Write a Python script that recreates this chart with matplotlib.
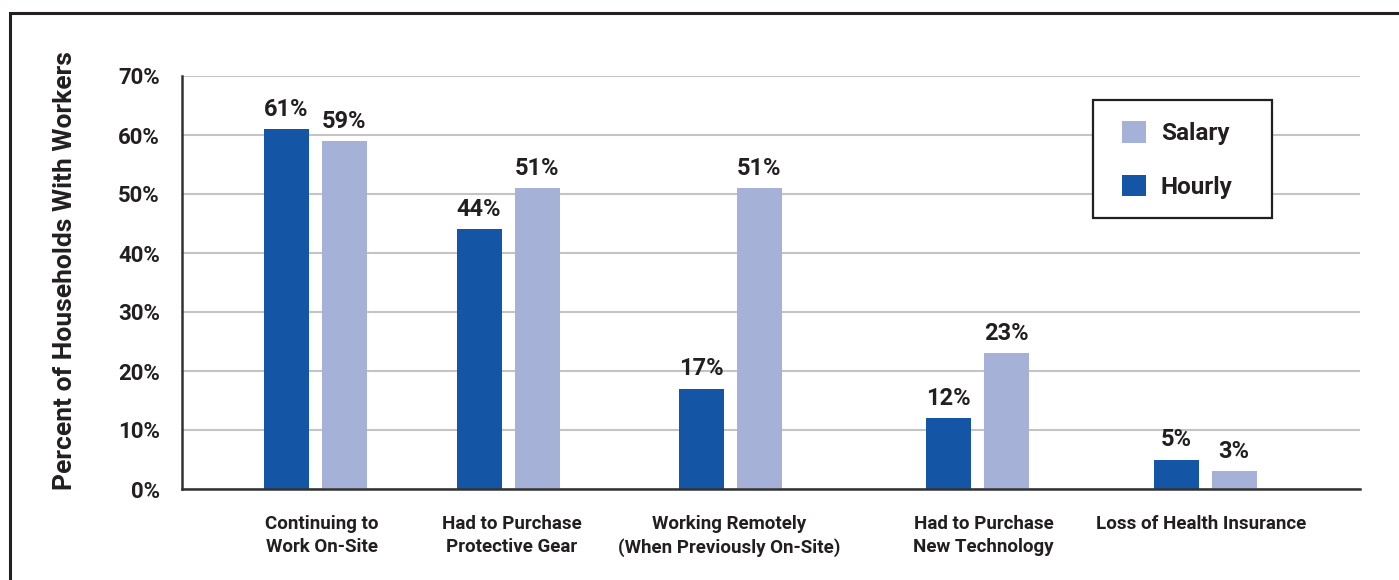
"""
Grouped bar chart: share of households with hourly vs salary workers
"""
import matplotlib
matplotlib.use("Agg")
import matplotlib.pyplot as plt
from matplotlib.patches import Patch, Rectangle

plt.rcParams['font.family'] = ['Roboto', 'DejaVu Sans']
plt.rcParams['font.weight'] = 'bold'

categories = ["Continuing to\nWork On-Site",
              "Had to Purchase\nProtective Gear",
              "Working Remotely\n(When Previously On-Site)",
              "Had to Purchase\nNew Technology",
              "Loss of Health Insurance"]
hourly = [61, 44, 17, 12, 5]
salary = [59, 51, 51, 23, 3]
yticks = [0, 10, 20, 30, 40, 50, 60, 70]

# layout (axes units roughly in pixels, groups are not evenly spaced)
group_pos = [133, 326, 548.5, 795.5, 1023]
label_pos = [139.5, 330, 547, 801.5, 1019.5]
offset = 29
width = 45

HOURLY_C = '#1555a5'
SALARY_C = '#a6b1d7'
TEXT_C = '#231f20'

fig = plt.figure(figsize=(13.99, 5.8), dpi=100)
ax = fig.add_axes([182 / 1399, 91 / 580, 1178 / 1399, 413 / 580])

xh = [g - offset for g in group_pos]
xs = [g + offset for g in group_pos]
ax.bar(xh, hourly, width=width, color=HOURLY_C, zorder=3)
ax.bar(xs, salary, width=width, color=SALARY_C, zorder=3)

for x, v in zip(xh, hourly):
    ax.annotate(f"{v}%", (x, v), xytext=(0, 6), textcoords='offset points',
                ha='center', va='bottom', fontsize=17, color=TEXT_C, fontweight='bold')
for x, v in zip(xs, salary):
    ax.annotate(f"{v}%", (x, v), xytext=(0, 6), textcoords='offset points',
                ha='center', va='bottom', fontsize=17, color=TEXT_C, fontweight='bold')

ax.set_xlim(0, 1178)
ax.set_ylim(0, 70)
ax.set_yticks(yticks)
ax.set_yticklabels([f"{t}%" for t in yticks], fontsize=16, color=TEXT_C, fontweight='bold')
ax.set_xticks(label_pos)
ax.set_xticklabels(categories, fontsize=13.5, color=TEXT_C, fontweight='bold', linespacing=1.3)
ax.tick_params(axis='y', length=0, pad=16)
ax.tick_params(axis='x', length=0, pad=19)

ax.grid(axis='y', color='#c4c4c4', linewidth=1.5, zorder=0)
for s in ['top', 'right']:
    ax.spines[s].set_visible(False)
for s in ['left', 'bottom']:
    ax.spines[s].set_color('#333333')
    ax.spines[s].set_linewidth(1.8)
    ax.spines[s].set_zorder(4)

ax.set_ylabel("Percent of Households With Workers", fontsize=19, color=TEXT_C,
              fontweight='bold')
ax.yaxis.set_label_coords(-0.089, 0.528)

# legend without frame, box drawn separately to match the reference size
handles = [Patch(facecolor=SALARY_C, edgecolor='none', label='Salary'),
           Patch(facecolor=HOURLY_C, edgecolor='none', label='Hourly')]
leg = ax.legend(handles=handles, loc='upper left', bbox_to_anchor=(0.798, 0.89),
                fontsize=17.5, frameon=False, borderpad=0,
                handlelength=0.97, handleheight=0.97, handletextpad=0.62,
                labelspacing=1.2, borderaxespad=0)
for t in leg.get_texts():
    t.set_color(TEXT_C)
ax.add_patch(Rectangle((0.7733, 0.656), 0.152, 0.286, transform=ax.transAxes,
                       facecolor='white', edgecolor='#231f20', linewidth=1.6, zorder=5))
leg.set_zorder(6)

# outer frame running off the right and bottom edges
fig.patches.append(Rectangle((10 / 1399, -0.2), 1.2, (580 - 13) / 580 + 0.2,
                             transform=fig.transFigure, fill=False,
                             edgecolor='#231f20', linewidth=2.2))

fig.savefig("out.png", dpi=100)
